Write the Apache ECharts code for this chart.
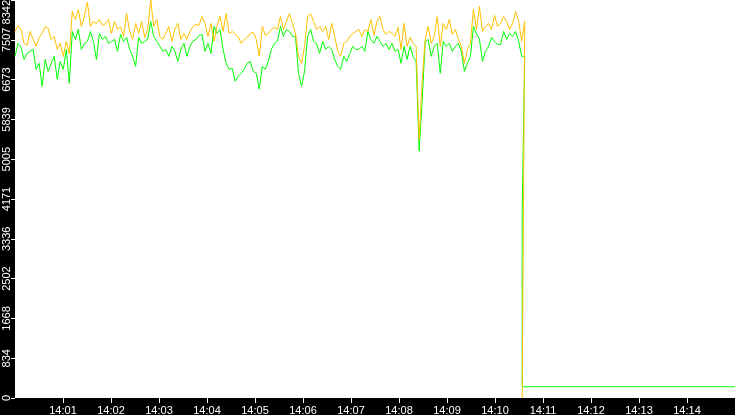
<!DOCTYPE html>
<html>
<head>
<meta charset="utf-8">
<script src="https://cdn.jsdelivr.net/npm/echarts@6/dist/echarts.min.js"></script>
<style>
    html,body{margin:0;padding:0;background:#000;}
    #main{width:735px;height:415px;}
</style>
</head>
<body>
<div id="main"></div>
<script>
//时间：从14:00:00起的秒数
var startHour = 14;
var stepSec = 3.77;

//黄线
var orangeVals = [
    7683,7808,7725,7432,7390,7683,7516,7370,7558,7641,7788,7746,7516,7579,7307,7432,7161,7474,7223,8101,7934,8143,7788,7997,8300,7788,7892,7850,7934,7808,
    7850,7934,7641,7892,7725,7788,7579,8059,7683,7516,7850,7641,7892,7558,7725,8342,7788,7934,7579,7516,7641,7788,7474,7725,7850,7516,7641,7516,7683,
    7788,7829,7808,7997,7850,7579,7850,7474,7808,7997,7683,8059,7641,7683,7620,7579,7432,7516,7558,7641,7662,7516,7161,7788,7599,7641,7725,7767,
    7725,7997,7725,7892,8059,7850,7641,7161,7014,7370,7997,8059,7892,7725,7788,7683,7788,7516,7850,7579,7265,7161,7432,7474,7579,7641,7683,7725,
    7579,7725,7683,7934,7599,7892,7997,7725,7620,7683,7641,7579,7767,7307,7850,7370,7558,7432,7370,5426,6638,7516,7788,7432,7579,7997,7370,7850,
    7725,7934,7620,7725,7516,7370,7014,7307,7432,8143,7725,8206,7683,7788,7850,7725,8017,7788,7850,7997,7892,7725,7850,8101,7892,7474,7892
];
var orangeDropSec = 634;
var orangeDrop = 0;

//绿线
var greenVals = [
    7161,7432,7349,7098,7223,7265,7307,6889,7014,6534,7098,6847,7014,7161,6680,7056,6889,7307,6596,7683,7516,7725,7307,7432,7474,7683,7474,7098,7641,7516,
    7579,7432,7474,7516,7265,7620,7474,7558,7307,7161,6952,7558,7432,7474,7516,7892,7579,7474,7370,7265,7307,7161,7370,7265,7056,7307,7432,7161,7370,
    7474,7516,7599,7620,7265,7432,7223,7788,7641,7725,7307,7014,6889,6910,6638,6743,6805,6889,7014,7056,6847,6805,6471,6952,6889,7056,7307,7432,
    7474,7788,7579,7725,7683,7579,7579,6805,6534,6847,7579,7725,7474,7432,7223,7474,7307,7370,7307,7098,6952,6889,7161,7056,7223,7370,7307,7307,
    7370,7265,7683,7516,7432,7579,7474,7370,7432,7307,7432,7265,7307,7014,7370,7098,7370,7161,7056,5175,6220,7474,7516,7161,7370,7432,6805,7474,
    7370,7432,7265,7370,7432,7265,6847,7014,7161,7788,7641,7516,7056,7265,7370,7558,7474,7411,7411,7683,7516,7641,7579,7683,7474,7161,7161
];
var greenDropSec = 634;
var greenDrop = 3924;
var greenTailSec = [634, 900];
var greenTailVals = [236, 236];

var yMax = 8342;
var yStep = 834.2;

function buildData(vals, dropSec, drop, tailSec, tailVals) {
    var arr = [];
    for (var i = 0; i < vals.length; i++) {
        arr.push([i * stepSec, vals[i]]);
    }
    arr.push([dropSec, drop]);
    if (tailSec) {
        for (var j = 0; j < tailSec.length; j++) {
            arr.push([tailSec[j], tailVals[j]]);
        }
    }
    return arr;
}

var myChart = echarts.init(document.getElementById('main'));

var labelFont = {color: '#fff', fontFamily: 'Liberation Sans', fontSize: 11};

var option = {
    backgroundColor: '#000',
    animation: false,
    grid: {
        left: 15, right: 0, top: 0, bottom: 17,
        containLabel: false, outerBoundsMode: 'none',
        show: true, backgroundColor: '#fff', borderWidth: 0
    },
    xAxis: {
        type: 'value',
        min: 0,
        max: 900,
        interval: 60,
        axisLine: {show: false},
        splitLine: {show: false},
        axisTick: {show: true, length: 5, lineStyle: {color: '#fff', width: 1}},
        axisLabel: {
            color: labelFont.color, fontFamily: labelFont.fontFamily, fontSize: labelFont.fontSize,
            margin: 7,
            showMinLabel: false,
            showMaxLabel: false,
            formatter: function (v) {
                var m = Math.round(v / 60);
                return startHour + ':' + (m < 10 ? '0' + m : m);
            }
        }
    },
    yAxis: {
        type: 'value',
        min: 0,
        max: yMax,
        interval: yStep,
        axisLine: {show: false},
        splitLine: {show: false},
        axisTick: {show: true, length: 4, lineStyle: {color: '#fff', width: 1}},
        axisLabel: {
            color: labelFont.color, fontFamily: labelFont.fontFamily, fontSize: labelFont.fontSize,
            rotate: 90,
            margin: 3,
            alignMaxLabel: 'right',
            formatter: function (v) {
                return Math.floor(v + 0.001) + '';
            }
        }
    },
    series: [
        {
            name: 'B',
            type: 'line',
            showSymbol: false,
            data: buildData(greenVals, greenDropSec, greenDrop, greenTailSec, greenTailVals),
            lineStyle: {color: '#00FF00', width: 1},
            itemStyle: {color: '#00FF00'}
        },
        {
            name: 'A',
            type: 'line',
            showSymbol: false,
            data: buildData(orangeVals, orangeDropSec, orangeDrop),
            lineStyle: {color: '#FFC000', width: 1},
            itemStyle: {color: '#FFC000'}
        }
    ]
};

myChart.setOption(option);
</script>
</body>
</html>
